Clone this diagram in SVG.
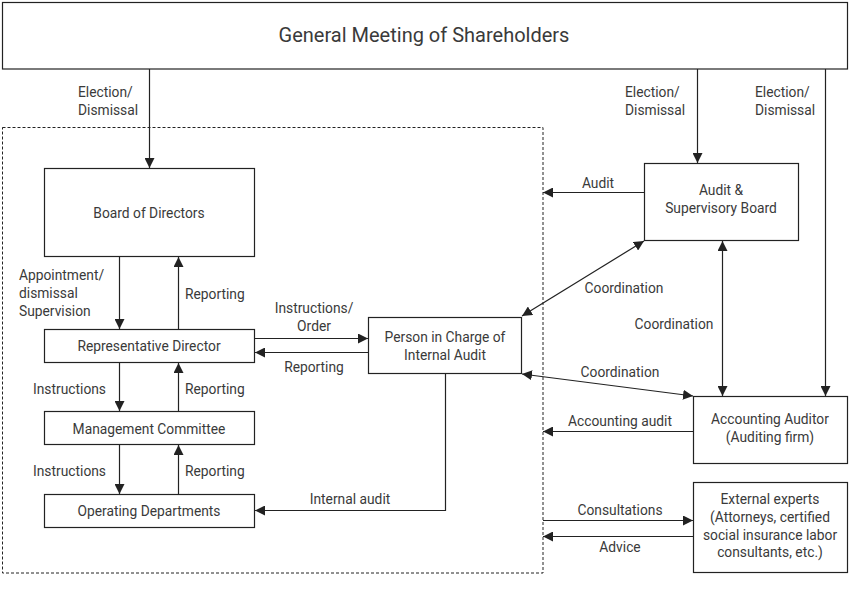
<svg xmlns="http://www.w3.org/2000/svg" width="850" height="600" viewBox="0 0 850 600">
<defs>
<marker id="ah" viewBox="0 0 10 10" refX="10" refY="5" markerWidth="10" markerHeight="10" markerUnits="userSpaceOnUse" orient="auto-start-reverse">
<path d="M0,0 L10,5 L0,10 z" fill="#222"/>
</marker>
<style>
.box{fill:#fff;stroke:#222;stroke-width:1.2}
.t{font-family:Roboto,"Liberation Sans",sans-serif;font-size:13.8px;fill:#3a3a3a}
.c{text-anchor:middle}
.ln{fill:none;stroke:#222;stroke-width:1.2}
.a{marker-end:url(#ah)}
.b{marker-start:url(#ah);marker-end:url(#ah)}
</style>
</defs>
<rect width="850" height="600" fill="#fff"/>
<rect x="2.5" y="127.5" width="540.5" height="445.5" fill="none" stroke="#222" stroke-width="1" stroke-dasharray="3,2"/>
<g id="gms"><rect class="box" x="2.5" y="2.5" width="845" height="66.5"/><text class="t c" x="424" y="42" style="font-size:20px">General Meeting of Shareholders</text></g>
<g id="board"><rect class="box" x="44.5" y="168.5" width="210" height="88"/><text class="t c" x="149" y="218">Board of Directors</text></g>
<g id="rep"><rect class="box" x="44.5" y="329.5" width="210" height="33"/><text class="t c" x="149" y="351">Representative Director</text></g>
<g id="mgmt"><rect class="box" x="44.5" y="411.5" width="210" height="33"/><text class="t c" x="149" y="434">Management Committee</text></g>
<g id="ops"><rect class="box" x="44.5" y="494.5" width="210" height="33"/><text class="t c" x="149" y="516">Operating Departments</text></g>
<g id="internal"><rect class="box" x="368.5" y="317.5" width="153" height="56"/><text class="t c" x="445" y="342">Person in Charge of</text><text class="t c" x="445" y="360">Internal Audit</text></g>
<g id="asb"><rect class="box" x="644.5" y="163.5" width="154" height="77"/><text class="t c" x="721" y="195">Audit &amp;</text><text class="t c" x="721" y="213">Supervisory Board</text></g>
<g id="acc"><rect class="box" x="693.5" y="396.5" width="154" height="67"/><text class="t c" x="770" y="424">Accounting Auditor</text><text class="t c" x="770" y="442">(Auditing firm)</text></g>
<g id="ext"><rect class="box" x="693.5" y="482.5" width="154" height="90"/><text class="t c" x="770" y="504">External experts</text><text class="t c" x="770" y="522">(Attorneys, certified</text><text class="t c" x="770" y="540">social insurance labor</text><text class="t c" x="770" y="557">consultants, etc.)</text></g>
<g id="connectors">
<path class="ln a" d="M149.5,69 V168"/>
<path class="ln a" d="M697.5,69 V163"/>
<path class="ln a" d="M825.5,69 V396"/>
<path class="ln a" d="M119.5,257 V329"/>
<path class="ln a" d="M178.5,329 V257"/>
<path class="ln a" d="M119.5,363 V411"/>
<path class="ln a" d="M178.5,411 V363"/>
<path class="ln a" d="M119.5,445 V494"/>
<path class="ln a" d="M178.5,494 V445"/>
<path class="ln a" d="M255,338.5 H368"/>
<path class="ln a" d="M368,352.5 H255"/>
<path class="ln a" d="M445.5,374 V510.5 H255"/>
<path class="ln a" d="M644,192.5 H543"/>
<path class="ln b" d="M522,316 L644,241"/>
<path class="ln b" d="M722.5,241 V396"/>
<path class="ln b" d="M522,374 L693,396"/>
<path class="ln a" d="M693,431.5 H543"/>
<path class="ln a" d="M543,520.5 H693"/>
<path class="ln a" d="M693,536.5 H543"/>
</g>
<g id="labels">
<text class="t" x="78" y="97">Election/</text><text class="t" x="78" y="115">Dismissal</text>
<text class="t" x="625" y="97">Election/</text><text class="t" x="625" y="115">Dismissal</text>
<text class="t" x="755" y="97">Election/</text><text class="t" x="755" y="115">Dismissal</text>
<text class="t" x="19" y="280">Appointment/</text><text class="t" x="19" y="298">dismissal</text><text class="t" x="19" y="316">Supervision</text>
<text class="t" x="185" y="299">Reporting</text>
<text class="t" x="33" y="394">Instructions</text>
<text class="t" x="185" y="394">Reporting</text>
<text class="t" x="33" y="476">Instructions</text>
<text class="t" x="185" y="476">Reporting</text>
<text class="t c" x="314" y="313">Instructions/</text><text class="t c" x="314" y="331">Order</text>
<text class="t c" x="314" y="372">Reporting</text>
<text class="t c" x="350" y="504">Internal audit</text>
<text class="t c" x="598" y="188">Audit</text>
<text class="t c" x="624" y="293">Coordination</text>
<text class="t c" x="674" y="329">Coordination</text>
<text class="t c" x="620" y="377">Coordination</text>
<text class="t c" x="620" y="426">Accounting audit</text>
<text class="t c" x="620" y="515">Consultations</text>
<text class="t c" x="620" y="552">Advice</text>
</g>
</svg>
